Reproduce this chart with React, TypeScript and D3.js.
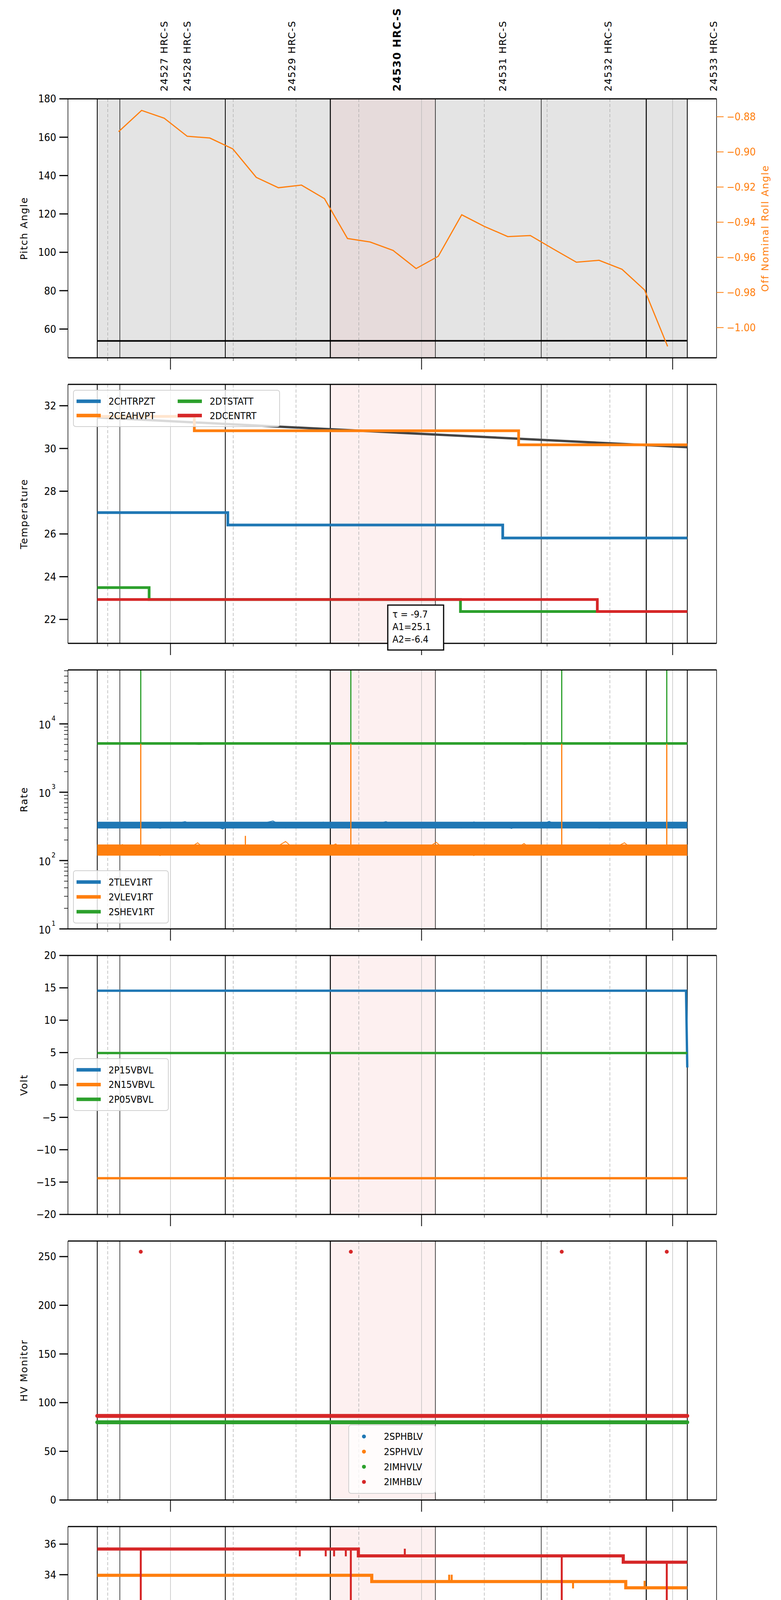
import * as d3 from "d3";

// time in minutes since 00:00 on 2021-04-04
const xDomain = [635.5, 790.5];
const spanStart = 642.5;
const spanEnd = 783.5;
const hiStart = 698.2;
const hiEnd = 723.3;
const obsLines = [642.5, 647.9, 673.1, 698.2, 723.3, 748.6, 773.7, 783.5];
const obsLineW = [2, 1.4, 2, 2.5, 1.4, 1.4, 2.5, 2];
const obsLabelT = [658.5, 664.0, 689.0, 714.2, 739.4, 764.6, 789.8];
const obsLabels = ["24527 HRC-S", "24528 HRC-S", "24529 HRC-S", "24530 HRC-S", "24531 HRC-S", "24532 HRC-S", "24533 HRC-S"];
const hourTicks = [660, 720, 780];
const hourLabels = ["11h", "12h", "13h"];
const quarterTicks = [645, 675, 690, 705, 735, 750, 765];
const quarterLabels = ["45", "15", "30", "45", "15", "30", "45"];
const spikeT = [652.9, 703.1, 753.5, 778.6];

// panel 1
const rollT = [647.6, 653.1, 658.5, 664.0, 669.4, 674.9, 680.5, 685.8, 691.3, 696.8, 702.3, 707.7, 713.2, 718.7, 724.0, 729.6, 735.0, 740.6, 746.0, 751.5, 757.0, 762.4, 767.9, 773.3, 778.8];
const rollV = [-0.8885, -0.8764, -0.8808, -0.8911, -0.8921, -0.8983, -0.9145, -0.9204, -0.9189, -0.9266, -0.9493, -0.9513, -0.9561, -0.9664, -0.9594, -0.9358, -0.9424, -0.9482, -0.9476, -0.9553, -0.9628, -0.9617, -0.9668, -0.9786, -1.0107];
const pitchT = [642.5, 783.5];
const pitchV = [53.8, 53.9];

// panel 2
const trendT = [642.5, 783.5];
const trendV = [31.45, 30.06];
const chtrpztT = [642.5, 673.7, 739.4, 783.5];
const chtrpztV = [27.0, 26.42, 25.81, 25.81];
const ceahvptT = [642.5, 665.7, 743.2, 783.5];
const ceahvptV = [31.5, 30.83, 30.17, 30.17];
const dtstattT = [642.5, 654.9, 729.3, 783.5];
const dtstattV = [23.49, 22.93, 22.37, 22.37];
const dcentrtT = [642.5, 762.0, 783.5];
const dcentrtV = [22.93, 22.37, 22.37];

// panel 3 (rates, hand-read samples across the span, plus the noise envelope)
const tlevV = [330, 305, 350, 318, 362, 296, 340, 372, 310, 335, 290, 355, 320, 345, 380, 300, 338, 312, 365, 325, 298, 348, 335, 372, 305, 328, 358, 315, 342, 300, 368, 322, 336, 295, 352, 318, 375, 308, 340, 330, 298, 362, 326, 345, 310, 356, 320, 338];
const vlevV = [150, 128, 172, 135, 160, 118, 165, 140, 182, 125, 155, 138, 170, 122, 148, 190, 132, 158, 145, 175, 120, 162, 138, 168, 128, 152, 142, 185, 130, 158, 118, 170, 145, 135, 178, 125, 160, 140, 168, 122, 155, 148, 182, 128, 162, 138, 150, 118];
const shevV = [5200, 5050, 5300, 5120, 5250, 5000, 5180, 5320, 5080, 5220, 5150, 5280, 5030, 5200, 5260, 5100, 5330, 5060, 5210, 5170, 5290, 5020, 5240, 5130, 5270, 5080, 5200, 5310, 5110, 5190];
const tlevBand = [295, 370];
const vlevBand = [118, 172];
const shevBand = [4950, 5400];
const vlevSpikeT = [652.9, 677.9, 703.1, 753.5, 778.6];
const vlevSpikeV = [5100, 230, 5100, 5100, 5100];

// panel 4
const p15T = [642.5, 783.2, 783.5];
const p15V = [14.55, 14.55, 2.7];
const n15T = [642.5, 783.5];
const n15V = [-14.4, -14.4];
const p05T = [642.5, 783.5];
const p05V = [4.93, 4.93];

// panel 5
const imhblvV = 86.4;
const imhvlvV = 79.8;
const imhblvOutT = [652.9, 703.1, 753.5, 778.6];
const imhblvOutV = [255, 255, 255, 255];

// panel 6
const spinT = [642.5, 650.7, 656.3, 783.5];
const spinV = [22.4, 22.4, 21.68, 21.68];
const spinSpikeT = [648.2, 651.6, 653.5, 655.2];
const spinSpikeV = [21.68, 22.4, 22.4, 22.4];
const sphvT = [642.5, 708.1, 768.8, 783.5];
const sphvV = [33.96, 33.55, 33.14, 33.14];
const sphvSpikeT = [726.6, 727.2, 756.2, 773.3];
const sphvSpikeV = [34.0, 34.0, 33.1, 33.6];
const iminT = [642.5, 702.5, 783.5];
const iminV = [23.14, 22.41, 22.41];
const iminSpikeT = [704.0, 705.0];
const iminSpikeV = [23.14, 23.14];
const imhvT = [642.5, 704.9, 768.2, 783.5];
const imhvV = [35.68, 35.23, 34.82, 34.82];
const imhvSpikeT = [652.9, 690.9, 697.1, 699.1, 701.9, 703.1, 716.0, 753.5, 778.6];
const imhvSpikeV = [0, 35.2, 35.2, 35.2, 35.2, 0, 35.7, 0, 0];

// panel 7
const fhtrT = [642.5, 690.4, 748.2, 783.5];
const fhtrV = [24.62, 24.05, 23.48, 23.48];
const fradT = [642.5, 673.0, 723.1, 781.2, 783.5];
const fradV = [19.16, 18.65, 18.15, 17.65, 17.65];
const feprT = [642.5, 703.6, 783.5];
const feprV = [26.17, 25.39, 25.39];
const feprSpikeT = [652.9, 703.1, 753.5, 778.6];
const feprSpikeV = [24.16, 23.6, 23.4, 23.05];
const fe00T = [642.5, 651.5, 690.2, 732.5, 776.7, 783.5];
const fe00V = [24.28, 23.95, 23.63, 23.3, 22.98, 22.98];
const fe00SpikeT = [645.0, 652.9, 654.0, 655.4, 664.5, 666.5, 669.1, 677.5, 681.7, 683.1, 685.4, 689.8, 693.6, 694.9, 703.1, 708.9, 734.9, 744.6, 753.5, 754.7, 758.8, 760.8, 775.0, 778.6, 779.6];
const fe00SpikeV = [23.3, 16, 25.3, 23.6, 23.6, 24.3, 23.3, 23.6, 22.6, 23.3, 24.3, 24.95, 24.0, 24.0, 16, 23.3, 23.65, 22.0, 16, 23.0, 23.65, 23.0, 22.6, 16, 23.35];

const C = { blue: "#1f77b4", orange: "#ff7f0e", green: "#2ca02c", red: "#d62728" };
const L = 166;
const R = 1827;
const TOP0 = 245;
const PITCH = 731;
const H = 663;
const tickFont = "'DejaVu Sans Condensed', 'DejaVu Sans', sans-serif";
const labelFont = "'DejaVu Sans', sans-serif";

const x = d3.scaleLinear().domain(xDomain).range([L, R]);

function stepAt(ts: number[], vs: number[], t: number) {
  const i = Math.max(0, d3.bisectRight(ts, t) - 1);
  return vs[i];
}

function zip(ts: number[], vs: number[]) {
  return ts.map((t, i) => [t, vs[i]] as [number, number]);
}

function even(vs: number[]) {
  const s = d3.scaleLinear().domain([0, vs.length - 1]).range([spanStart, spanEnd]);
  return vs.map((v, i) => [s(i), v] as [number, number]);
}

function Background({ top, grayFill }: { top: number; grayFill?: boolean }) {
  return (
    <g>
      {grayFill && <rect x={x(spanStart)} y={top} width={x(spanEnd) - x(spanStart)} height={H} fill="#e4e4e4" />}
      <rect x={x(hiStart)} y={top} width={x(hiEnd) - x(hiStart)} height={H} fill="#f4a0a0" opacity={grayFill ? 0.12 : 0.16} />
      {hourTicks.map((t) => (
        <line key={t} x1={x(t)} x2={x(t)} y1={top} y2={top + H} stroke="#b8b8b8" strokeWidth={1.3} />
      ))}
      {quarterTicks.map((t) => (
        <line key={t} x1={x(t)} x2={x(t)} y1={top} y2={top + H} stroke="#aaa" strokeWidth={1.3} strokeDasharray="8,5" />
      ))}
      {obsLines.map((t, i) => (
        <line key={t} x1={x(t)} x2={x(t)} y1={top} y2={top + H} stroke="#000" strokeWidth={obsLineW[i]} />
      ))}
    </g>
  );
}

function Frame({ top, bottomLabels }: { top: number; bottomLabels?: boolean }) {
  const b = top + H;
  return (
    <g>
      <line x1={L} x2={R} y1={top} y2={top} stroke="#000" strokeWidth={3} />
      <line x1={L} x2={R} y1={b} y2={b} stroke="#000" strokeWidth={3} />
      <line x1={L} x2={L} y1={top} y2={b} stroke="#000" strokeWidth={1.5} />
      <line x1={R} x2={R} y1={top} y2={b} stroke="#000" strokeWidth={1.5} />
      {hourTicks.map((t, i) => (
        <g key={t}>
          <line x1={x(t)} x2={x(t)} y1={b} y2={b + 30} stroke="#000" strokeWidth={2} />
          {bottomLabels && (
            <text x={x(t)} y={b + 80} textAnchor="middle" fontSize={30} fontFamily={tickFont}>{hourLabels[i]}</text>
          )}
        </g>
      ))}
      {quarterTicks.map((t, i) => (
        <g key={t}>
          <line x1={x(t)} x2={x(t)} y1={b} y2={b + 8} stroke="#000" strokeWidth={1} />
          {bottomLabels && (
            <text x={x(t)} y={b + 30} textAnchor="middle" fontSize={19} fontFamily={tickFont}>{quarterLabels[i]}</text>
          )}
        </g>
      ))}
    </g>
  );
}

function YAxis({ y, ticks, fmt, label }: { y: d3.ScaleLinear<number, number>; ticks: number[]; fmt?: (v: number) => string; label: string }) {
  const r = y.range();
  const mid = (r[0] + r[1]) / 2;
  return (
    <g>
      {ticks.map((v) => (
        <g key={v}>
          <line x1={L - 22} x2={L} y1={y(v)} y2={y(v)} stroke="#000" strokeWidth={3} />
          <text x={L - 30} y={y(v)} dy="0.35em" textAnchor="end" fontSize={27} fontFamily={tickFont}>
            {fmt ? fmt(v) : String(v).replace("-", "\u2212")}
          </text>
        </g>
      ))}
      <text transform={`translate(62,${mid}) rotate(-90)`} textAnchor="middle" fontSize={25} fontFamily={labelFont} letterSpacing={2}>
        {label}
      </text>
    </g>
  );
}

type Item = { label: string; color: string };

function Legend({ x0, y0, w, h, items, cols = 1, dots }: { x0: number; y0: number; w: number; h: number; items: Item[]; cols?: number; dots?: boolean }) {
  const rows = Math.ceil(items.length / cols);
  const rowH = (h - 20) / rows;
  const colW = (w - 10) / cols;
  return (
    <g>
      <rect x={x0} y={y0} width={w} height={h} rx={6} fill="#fff" fillOpacity={0.8} stroke="#d0d0d0" strokeWidth={2} />
      {items.map((it, i) => {
        const c = Math.floor(i / rows);
        const r = i % rows;
        const lx = x0 + 8 + c * colW;
        const ly = y0 + 10 + rowH * (r + 0.5);
        return (
          <g key={it.label}>
            {dots ? (
              <circle cx={lx + 31} cy={ly} r={5} fill={it.color} />
            ) : (
              <line x1={lx} x2={lx + 62} y1={ly} y2={ly} stroke={it.color} strokeWidth={9} />
            )}
            <text x={lx + 82} y={ly} dy="0.35em" fontSize={25} fontFamily={tickFont}>{it.label}</text>
          </g>
        );
      })}
    </g>
  );
}

function StepLine({ y, ts, vs, color, w }: { y: d3.ScaleLinear<number, number>; ts: number[]; vs: number[]; color: string; w: number }) {
  const gen = d3.line<[number, number]>().x((d) => x(d[0])).y((d) => y(d[1])).curve(d3.curveStepAfter);
  return <path d={gen(zip(ts, vs)) ?? ""} fill="none" stroke={color} strokeWidth={w} />;
}

function Spikes({ y, ts, vs, st, sv, color, w }: { y: d3.ScaleLinear<number, number>; ts: number[]; vs: number[]; st: number[]; sv: number[]; color: string; w: number }) {
  return (
    <g>
      {st.map((t, i) => (
        <line key={i} x1={x(t)} x2={x(t)} y1={y(stepAt(ts, vs, t))} y2={y(sv[i])} stroke={color} strokeWidth={w} />
      ))}
    </g>
  );
}

function clipRect(id: string, top: number) {
  return (
    <clipPath id={id} key={id}>
      <rect x={L} y={top} width={R - L} height={H} />
    </clipPath>
  );
}

export default function App() {
  const tops = d3.range(7).map((i) => TOP0 + i * PITCH);

  const t1 = tops[0];
  const yPitch = d3.scaleLinear().domain([45, 180]).range([t1 + H, t1]);
  const yRoll = d3.scaleLinear().domain([-1.0172, -0.8698]).range([t1 + H, t1]);
  const lineP = d3.line<[number, number]>().x((d) => x(d[0])).y((d) => yPitch(d[1]));
  const lineR = d3.line<[number, number]>().x((d) => x(d[0])).y((d) => yRoll(d[1]));

  const t2 = tops[1];
  const yT = d3.scaleLinear().domain([20.88, 33]).range([t2 + H, t2]);
  const lineT = d3.line<[number, number]>().x((d) => x(d[0])).y((d) => yT(d[1]));

  const t3 = tops[2];
  const yRate = d3.scaleLog().domain([10, 61600]).range([t3 + H, t3]);
  const lineRate = d3.line<[number, number]>().x((d) => x(d[0])).y((d) => yRate(d[1]));
  const minorLog = [1, 10, 100, 1000, 10000].flatMap((d) => d3.range(2, 10).map((k) => k * d)).filter((v) => v > 10 && v < 61600);
  const band = (lohi: number[]) => (
    <rect x={x(spanStart)} width={x(spanEnd) - x(spanStart)} y={yRate(lohi[1])} height={yRate(lohi[0]) - yRate(lohi[1])} />
  );

  const t4 = tops[3];
  const yV = d3.scaleLinear().domain([-20, 20]).range([t4 + H, t4]);
  const lineV = d3.line<[number, number]>().x((d) => x(d[0])).y((d) => yV(d[1]));

  const t5 = tops[4];
  const yHV = d3.scaleLinear().domain([0, 266]).range([t5 + H, t5]);

  const t6 = tops[5];
  const yD = d3.scaleLinear().domain([20.2, 37.15]).range([t6 + H, t6]);

  const t7 = tops[6];
  const yF = d3.scaleLinear().domain([16.65, 27.67]).range([t7 + H, t7]);

  return (
    <svg width={2000} height={5400} style={{ display: "block", background: "#fff" }}>
      <defs>{tops.map((t, i) => clipRect(`clip${i}`, t))}</defs>
      <rect x={0} y={0} width={2000} height={5400} fill="#fff" />

      {obsLabelT.map((t, i) => (
        <text key={t} transform={`translate(${x(t) + 9},226) rotate(-90)`} fontSize={i === 3 ? 27 : 25} fontWeight={i === 3 ? "bold" : "normal"} fontFamily={labelFont} letterSpacing={1.5}>
          {obsLabels[i]}
        </text>
      ))}

      {/* Panel 1 */}
      <Background top={t1} grayFill />
      <g clipPath="url(#clip0)">
        <path d={lineP(zip(pitchT, pitchV)) ?? ""} fill="none" stroke="#000" strokeWidth={4} />
        <path d={lineR(zip(rollT, rollV)) ?? ""} fill="none" stroke={C.orange} strokeWidth={3} />
      </g>
      <Frame top={t1} />
      <YAxis y={yPitch} ticks={[60, 80, 100, 120, 140, 160, 180]} label="Pitch Angle" />
      {[-0.88, -0.9, -0.92, -0.94, -0.96, -0.98, -1.0].map((v) => (
        <g key={v}>
          <line x1={R} x2={R + 18} y1={yRoll(v)} y2={yRoll(v)} stroke={C.orange} strokeWidth={2} />
          <text x={R + 26} y={yRoll(v)} dy="0.35em" fontSize={27} fill={C.orange} fontFamily={tickFont}>
            {"\u2212" + Math.abs(v).toFixed(2)}
          </text>
        </g>
      ))}
      <text transform={`translate(1960,${t1 + H / 2}) rotate(-90)`} textAnchor="middle" fontSize={25} fill={C.orange} fontFamily={labelFont} letterSpacing={2}>
        Off Nominal Roll Angle
      </text>

      {/* Panel 2 */}
      <Background top={t2} />
      <g clipPath="url(#clip1)">
        <path d={lineT(zip(trendT, trendV)) ?? ""} fill="none" stroke="#444" strokeWidth={6} />
        <StepLine y={yT} ts={chtrpztT} vs={chtrpztV} color={C.blue} w={7} />
        <StepLine y={yT} ts={ceahvptT} vs={ceahvptV} color={C.orange} w={7} />
        <StepLine y={yT} ts={dtstattT} vs={dtstattV} color={C.green} w={7} />
        <StepLine y={yT} ts={dcentrtT} vs={dcentrtV} color={C.red} w={7} />
      </g>
      <Frame top={t2} />
      <YAxis y={yT} ticks={[22, 24, 26, 28, 30, 32]} label="Temperature" />
      <Legend x0={180} y0={991} w={528} h={93} cols={2} items={[
        { label: "2CHTRPZT", color: C.blue },
        { label: "2CEAHVPT", color: C.orange },
        { label: "2DTSTATT", color: C.green },
        { label: "2DCENTRT", color: C.red },
      ]} />
      <rect x={985} y={1541} width={143} height={115} fill="#fff" stroke="#000" strokeWidth={3} />
      {["\u03c4 = -9.7", "A1=25.1", "A2=-6.4"].map((s, i) => (
        <text key={s} x={997} y={1573 + i * 32} fontSize={25} fontFamily={tickFont}>{s}</text>
      ))}

      {/* Panel 3 */}
      <Background top={t3} />
      <g clipPath="url(#clip2)">
        <g fill={C.green}>{band(shevBand)}</g>
        <path d={lineRate(even(shevV)) ?? ""} fill="none" stroke={C.green} strokeWidth={2} />
        {spikeT.map((t) => (
          <line key={t} x1={x(t)} x2={x(t)} y1={yRate(5100)} y2={t3} stroke={C.green} strokeWidth={3} />
        ))}
        <g fill={C.blue}>{band(tlevBand)}</g>
        <path d={lineRate(even(tlevV)) ?? ""} fill="none" stroke={C.blue} strokeWidth={2} />
        <g fill={C.orange}>{band(vlevBand)}</g>
        <path d={lineRate(even(vlevV)) ?? ""} fill="none" stroke={C.orange} strokeWidth={2} />
        {vlevSpikeT.map((t, i) => (
          <line key={t} x1={x(t)} x2={x(t)} y1={yRate(150)} y2={yRate(vlevSpikeV[i])} stroke={C.orange} strokeWidth={3} />
        ))}
      </g>
      <Frame top={t3} />
      {minorLog.map((v) => (
        <line key={v} x1={L - 10} x2={L} y1={yRate(v)} y2={yRate(v)} stroke="#000" strokeWidth={1.5} />
      ))}
      {[1, 2, 3, 4].map((e) => (
        <g key={e}>
          <line x1={L - 22} x2={L} y1={yRate(10 ** e)} y2={yRate(10 ** e)} stroke="#000" strokeWidth={3} />
          <text x={L - 44} y={yRate(10 ** e)} dy="0.45em" textAnchor="end" fontSize={27} fontFamily={tickFont}>10</text>
          <text x={L - 42} y={yRate(10 ** e) - 8} fontSize={18} fontFamily={tickFont}>{e}</text>
        </g>
      ))}
      <text transform={`translate(62,${t3 + H / 2}) rotate(-90)`} textAnchor="middle" fontSize={25} fontFamily={labelFont} letterSpacing={2}>Rate</text>
      <Legend x0={180} y0={2221} w={243} h={134} items={[
        { label: "2TLEV1RT", color: C.blue },
        { label: "2VLEV1RT", color: C.orange },
        { label: "2SHEV1RT", color: C.green },
      ]} />

      {/* Panel 4 */}
      <Background top={t4} />
      <g clipPath="url(#clip3)">
        <path d={lineV(zip(p15T, p15V)) ?? ""} fill="none" stroke={C.blue} strokeWidth={6} />
        <path d={lineV(zip(n15T, n15V)) ?? ""} fill="none" stroke={C.orange} strokeWidth={6} />
        <path d={lineV(zip(p05T, p05V)) ?? ""} fill="none" stroke={C.green} strokeWidth={6} />
      </g>
      <Frame top={t4} />
      <YAxis y={yV} ticks={[-20, -15, -10, -5, 0, 5, 10, 15, 20]} label="Volt" />
      <Legend x0={180} y0={2702} w={243} h={133} items={[
        { label: "2P15VBVL", color: C.blue },
        { label: "2N15VBVL", color: C.orange },
        { label: "2P05VBVL", color: C.green },
      ]} />

      {/* Panel 5 */}
      <Background top={t5} />
      <g clipPath="url(#clip4)">
        <line x1={x(spanStart)} x2={x(spanEnd)} y1={yHV(imhvlvV)} y2={yHV(imhvlvV)} stroke={C.green} strokeWidth={10} strokeLinecap="round" />
        <line x1={x(spanStart)} x2={x(spanEnd)} y1={yHV(imhblvV)} y2={yHV(imhblvV)} stroke={C.red} strokeWidth={10} strokeLinecap="round" />
        {imhblvOutT.map((t, i) => (
          <circle key={t} cx={x(t)} cy={yHV(imhblvOutV[i])} r={5} fill={C.red} />
        ))}
      </g>
      <Frame top={t5} />
      <YAxis y={yHV} ticks={[0, 50, 100, 150, 200, 250]} label="HV Monitor" />
      <Legend x0={885} y0={3640} w={222} h={175} dots items={[
        { label: "2SPHBLV", color: C.blue },
        { label: "2SPHVLV", color: C.orange },
        { label: "2IMHVLV", color: C.green },
        { label: "2IMHBLV", color: C.red },
      ]} />

      {/* Panel 6 */}
      <Background top={t6} />
      <g clipPath="url(#clip5)">
        <StepLine y={yD} ts={spinT} vs={spinV} color={C.blue} w={8} />
        <Spikes y={yD} ts={spinT} vs={spinV} st={spinSpikeT} sv={spinSpikeV} color={C.blue} w={5} />
        <StepLine y={yD} ts={iminT} vs={iminV} color={C.green} w={8} />
        <Spikes y={yD} ts={iminT} vs={iminV} st={iminSpikeT} sv={iminSpikeV} color={C.green} w={5} />
        <StepLine y={yD} ts={sphvT} vs={sphvV} color={C.orange} w={8} />
        <Spikes y={yD} ts={sphvT} vs={sphvV} st={sphvSpikeT} sv={sphvSpikeV} color={C.orange} w={5} />
        <StepLine y={yD} ts={imhvT} vs={imhvV} color={C.red} w={8} />
        <Spikes y={yD} ts={imhvT} vs={imhvV} st={imhvSpikeT} sv={imhvSpikeV} color={C.red} w={5} />
      </g>
      <Frame top={t6} />
      <YAxis y={yD} ticks={[22, 24, 26, 28, 30, 32, 34, 36]} label="Detector Temp" />
      <Legend x0={1565} y0={4142} w={247} h={176} items={[
        { label: "2SPINATM", color: C.blue },
        { label: "2SPHVATM", color: C.orange },
        { label: "2IMINATM", color: C.green },
        { label: "2IMHVATM", color: C.red },
      ]} />

      {/* Panel 7 */}
      <Background top={t7} />
      <g clipPath="url(#clip6)">
        <StepLine y={yF} ts={fhtrT} vs={fhtrV} color={C.blue} w={8} />
        <StepLine y={yF} ts={fradT} vs={fradV} color={C.orange} w={8} />
        <StepLine y={yF} ts={feprT} vs={feprV} color={C.green} w={8} />
        <Spikes y={yF} ts={feprT} vs={feprV} st={feprSpikeT} sv={feprSpikeV} color={C.green} w={5} />
        <StepLine y={yF} ts={fe00T} vs={fe00V} color={C.red} w={8} />
        <Spikes y={yF} ts={fe00T} vs={fe00V} st={fe00SpikeT} sv={fe00SpikeV} color={C.red} w={5} />
      </g>
      <Frame top={t7} bottomLabels />
      <YAxis y={yF} ticks={[18, 20, 22, 24, 26]} label="FEA Temp" />
      <Legend x0={180} y0={4872} w={251} h={177} items={[
        { label: "2FHTRMZT", color: C.blue },
        { label: "2FRADPYT", color: C.orange },
        { label: "2FEPRATM", color: C.green },
        { label: "2FE00ATM", color: C.red },
      ]} />
      <text x={(L + R) / 2} y={5380} textAnchor="middle" fontSize={32} fontFamily={tickFont}>2021-04-04 (094)</text>
    </svg>
  );
}
